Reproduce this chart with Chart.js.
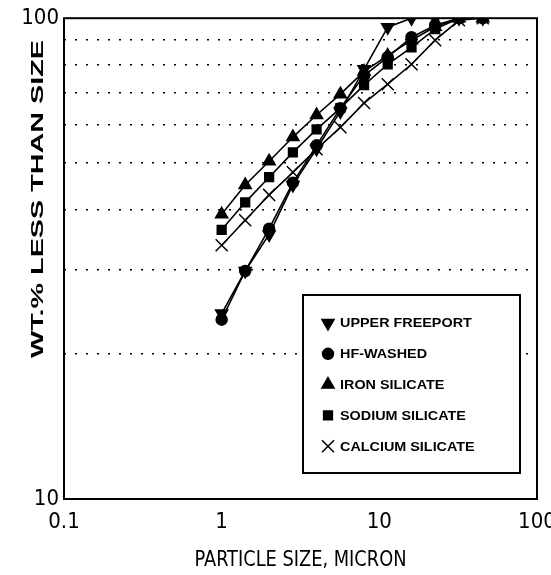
<!DOCTYPE html>
<html>
<head>
<meta charset="utf-8">
<script src="https://cdn.jsdelivr.net/npm/chart.js@4.4.1/dist/chart.umd.min.js"></script>
<style>
  html, body { margin: 0; padding: 0; background: #fff; }
  #wrap { width: 551px; height: 575px; }
</style>
</head>
<body>
<div id="wrap"><canvas id="psd"></canvas></div>
<script>
// particle size channels (micron)
const sizes = [1, 1.41, 2, 2.83, 4, 5.66, 8, 11.3, 16, 22.6, 32, 45.3];

const upperFreeport = [24.3, 29.8, 35.5, 45, 53.5, 64, 78.3, 95.8, 100, 100, 100, 100];
const hfWashed      = [23.6, 29.8, 36.5, 45.5, 54.4, 65, 76, 83, 91.3, 96.7, 100, 100];
const ironSilicate  = [39.1, 45, 50.4, 56.6, 62.9, 69.5, 77.5, 83.6, 90, 96, 100, 100];
const sodiumSilicate = [36.3, 41.4, 46.7, 52.6, 58.7, 65, 72.6, 80.2, 87, 94.9, 100, 100];
const calciumSilicate = [33.7, 38, 42.9, 47.8, 53.4, 59.3, 66.6, 72.9, 80.2, 90, 99, 100];

const seriesNames = ['UPPER FREEPORT', 'HF-WASHED', 'IRON SILICATE', 'SODIUM SILICATE', 'CALCIUM SILICATE'];
const xTicks = [0.1, 1, 10, 100];
const xTickLabels = ['0.1', '1', '10', '100'];
const yTicks = [10, 20, 30, 40, 50, 60, 70, 80, 90, 100];
const yTickLabels = ['10', '', '', '', '', '', '', '', '', '100'];

const narrow = '"Liberation Sans Narrow", "DejaVu Sans Condensed", Arial, sans-serif';
const sans = '"Liberation Sans", Arial, sans-serif';

function pts(vals) {
  return vals.map((v, i) => ({ x: sizes[i], y: v }));
}

function mkSet(label, vals, style, radius, rotation) {
  return {
    label: label,
    data: pts(vals),
    borderColor: '#000',
    backgroundColor: '#000',
    borderWidth: 1.6,
    pointStyle: style,
    pointRadius: radius,
    pointRotation: rotation || 0,
    pointBorderWidth: 1.5,
    tension: 0
  };
}

// draws the box round the plot, the axis titles and the legend box
const extras = {
  id: 'extras',
  afterDraw(chart) {
    const ctx = chart.ctx;
    const a = chart.chartArea;
    ctx.save();
    ctx.strokeStyle = '#000';
    ctx.lineWidth = 2;
    ctx.strokeRect(a.left, a.top, a.right - a.left, a.bottom - a.top);

    // x title
    ctx.fillStyle = '#000';
    ctx.textAlign = 'center';
    ctx.textBaseline = 'middle';
    ctx.font = '22px ' + narrow;
    let t = 'PARTICLE SIZE, MICRON';
    let w = ctx.measureText(t).width;
    ctx.save();
    ctx.translate((a.left + a.right) / 2, 560);
    ctx.scale(212 / w, 1);
    ctx.fillText(t, 0, 0);
    ctx.restore();

    // y title
    ctx.font = 'bold 16px ' + sans;
    t = 'WT.% LESS THAN SIZE';
    w = ctx.measureText(t).width;
    ctx.save();
    ctx.translate(39, 199);
    ctx.rotate(-Math.PI / 2);
    ctx.scale(318 / w, 1);
    ctx.fillText(t, 0, 0);
    ctx.restore();

    // legend
    const lx = 303, ly = 295, lw = 217, lh = 178;
    ctx.fillStyle = '#fff';
    ctx.fillRect(lx, ly, lw, lh);
    ctx.strokeRect(lx, ly, lw, lh);
    ctx.textAlign = 'left';
    ctx.font = 'bold 12.5px ' + sans;
    chart.data.datasets.forEach((ds, i) => {
      const y = 323 + i * 30.8;
      ctx.fillStyle = '#000';
      ctx.strokeStyle = '#000';
      ctx.lineWidth = 1.5;
      Chart.helpers.drawPoint(ctx, {
        pointStyle: ds.pointStyle,
        rotation: ds.pointRotation,
        radius: ds.pointRadius,
        borderWidth: 1.5
      }, 328, y);
      ctx.save();
      ctx.translate(340, y + 1);
      ctx.scale(1.15, 1);
      ctx.fillStyle = '#000';
      ctx.fillText(ds.label, 0, 0);
      ctx.restore();
    });
    ctx.restore();
  }
};

const ctx = document.getElementById('psd').getContext('2d');

const psdChart = new Chart(ctx, {
  type: 'line',
  data: {
    datasets: [
      mkSet(seriesNames[0], upperFreeport, 'triangle', 7, 180),
      mkSet(seriesNames[1], hfWashed, 'circle', 5.5),
      mkSet(seriesNames[2], ironSilicate, 'triangle', 7),
      mkSet(seriesNames[3], sodiumSilicate, 'rect', 6.2),
      mkSet(seriesNames[4], calciumSilicate, 'crossRot', 8.5)
    ]
  },
  options: {
    responsive: true,
    maintainAspectRatio: false,
    animation: false,
    layout: { padding: { left: 0, top: 17, right: 14, bottom: 0 } },
    plugins: {
      legend: { display: false },
      tooltip: { enabled: false }
    },
    scales: {
      x: {
        type: 'logarithmic',
        min: 0.1,
        max: 100,
        grid: { display: false, drawTicks: false },
        border: { display: false },
        afterBuildTicks(scale) { scale.ticks = xTicks.map(v => ({ value: v })); },
        afterFit(scale) {
          scale.height = 76;
          scale.paddingLeft = 0;
          scale.paddingRight = 0;
        },
        ticks: {
          autoSkip: false,
          maxRotation: 0,
          padding: 10,
          color: '#000',
          font: { family: narrow, size: 22 },
          callback(v, i) { return xTickLabels[i]; }
        }
      },
      y: {
        type: 'logarithmic',
        min: 10,
        max: 100,
        afterBuildTicks(scale) { scale.ticks = yTicks.map(v => ({ value: v })); },
        afterFit(scale) { scale.width = 64; },
        grid: {
          drawTicks: false,
          lineWidth: 1.6,
          color(c) {
            const v = c.tick && c.tick.value;
            if (v === undefined || v === 10 || v === 100) return 'rgba(0,0,0,0)';
            return '#000';
          }
        },
        border: { display: false, dash: [2, 9] },
        ticks: {
          autoSkip: false,
          padding: 5,
          color: '#000',
          font: { family: narrow, size: 22 },
          callback(v, i) { return yTickLabels[i]; }
        }
      }
    }
  },
  plugins: [extras]
});
</script>
</body>
</html>
